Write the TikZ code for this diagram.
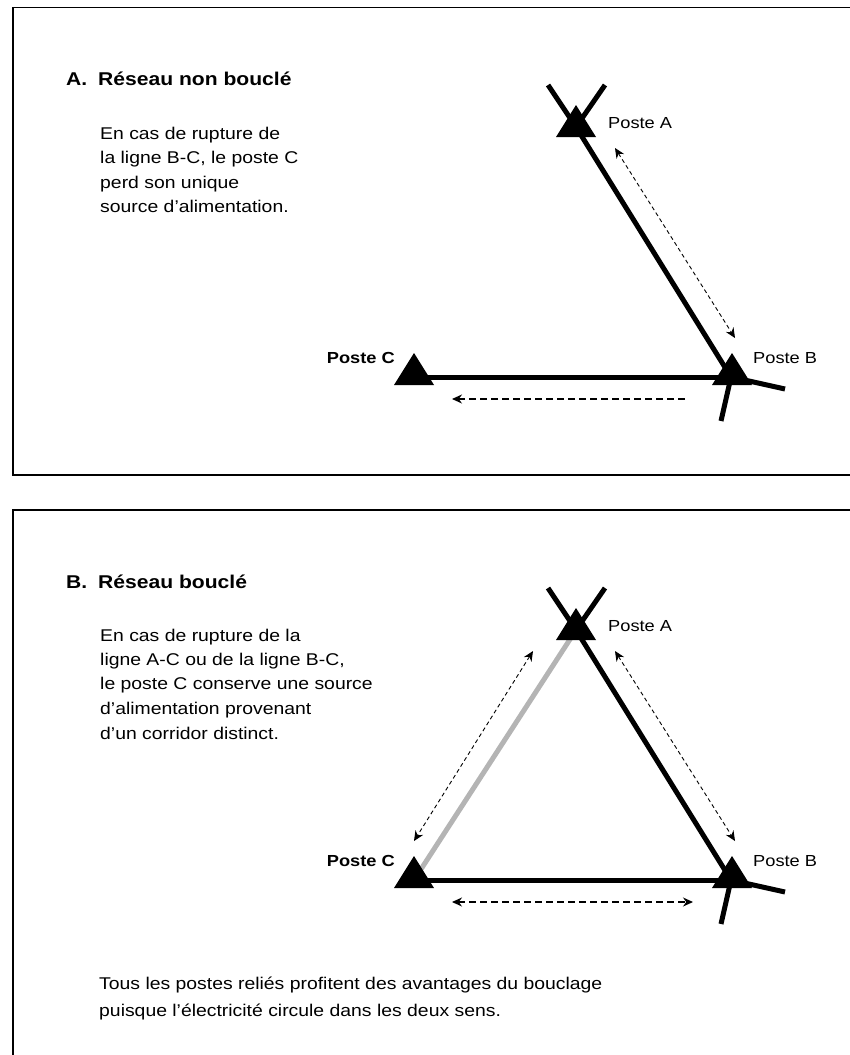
\documentclass[tikz,border=0pt]{standalone}
\usepackage{fontspec}
\setmainfont{Liberation Sans}[FakeStretch=1.14]
\usetikzlibrary{arrows.meta}
\definecolor{loopgray}{HTML}{B4B4B4}
\begin{document}
\begin{tikzpicture}[x=1pt,y=-1pt,
  >={Stealth[length=10pt,width=9pt]},
  frame/.style={line width=1.8pt},
  feeder/.style={line width=5pt},
  flowdiag/.style={line width=0.9pt, dash pattern=on 4pt off 3pt},
  flowflat/.style={line width=1.2pt, dash pattern=on 7pt off 4pt},
  body/.style={anchor=base west, inner sep=0pt, font=\fontsize{17}{24}\selectfont},
  heading/.style={anchor=base west, inner sep=0pt, font=\fontsize{18.5}{24}\selectfont\bfseries},
  postlabel/.style={inner sep=0pt, font=\fontsize{16}{20}\selectfont},
  postbold/.style={postlabel, font=\fontsize{16}{20}\selectfont\bfseries},
  station/.pic={\fill (-20,0) -- (20,0) -- (0,-32) -- cycle;}
]
\useasboundingbox (0,0) rectangle (850,1055);

% ---------- panel frames ----------
\draw[frame] (850,7.5) -- (13,7.5) -- (13,475) -- (850,475);
\draw[frame] (850,510) -- (13,510) -- (13,1055);

% ---------- panel A: radial network ----------
\node[heading] (titleA) at (66,85) {A.};
\node[heading] (titleAtext) at (98,85) {Réseau non bouclé};
\node[body] (tA1) at (100,139) {En cas de rupture de};
\node[body] (tA2) at (100,163) {la ligne B-C, le poste C};
\node[body] (tA3) at (100,188) {perd son unique};
\node[body] (tA4) at (100,212) {source d’alimentation.};

\coordinate (A1) at (576,127);
\coordinate (B1) at (731,377);
\coordinate (C1) at (414,377);
\coordinate (A1nw) at (548,85);
\coordinate (A1ne) at (605,85);
\coordinate (B1e) at (785,389);
\coordinate (B1s) at (721,421);

\draw[feeder] (A1nw) -- (A1);
\draw[feeder] (A1ne) -- (A1);
\draw[feeder] (A1) -- (B1);
\draw[feeder] (C1) -- (B1);
\draw[feeder] (B1) -- (B1e);
\draw[feeder] (B1) -- (B1s);

\pic at (576,137) {station};
\pic at (732,385) {station};
\pic at (414,385) {station};

\node[postlabel, anchor=west] (pA1) at (608,123) {Poste A};
\node[postlabel, anchor=west] (pB1) at (753,358) {Poste B};
\node[postbold, anchor=east] (pC1) at (395,358) {Poste C};

\coordinate (fAB1a) at (615,148);
\coordinate (fAB1b) at (735,338);
\coordinate (fBC1a) at (685,399);
\coordinate (fBC1b) at (452,399);
\draw[flowdiag, <->] (fAB1a) -- (fAB1b);
\draw[flowflat, ->] (fBC1a) -- (fBC1b);

% ---------- panel B: looped network ----------
\node[heading] (titleB) at (66,588) {B.};
\node[heading] (titleBtext) at (98,588) {Réseau bouclé};
\node[body] (tB1) at (100,641) {En cas de rupture de la};
\node[body] (tB2) at (100,665) {ligne A-C ou de la ligne B-C,};
\node[body] (tB3) at (100,689) {le poste C conserve une source};
\node[body] (tB4) at (100,714) {d’alimentation provenant};
\node[body] (tB5) at (100,739) {d’un corridor distinct.};

\coordinate (A2) at (576,630);
\coordinate (B2) at (731,880);
\coordinate (C2) at (414,880);
\coordinate (A2nw) at (548,588);
\coordinate (A2ne) at (605,588);
\coordinate (B2e) at (785,892);
\coordinate (B2s) at (721,924);

\draw[feeder, loopgray] (C2) -- (A2);
\draw[feeder] (A2nw) -- (A2);
\draw[feeder] (A2ne) -- (A2);
\draw[feeder] (A2) -- (B2);
\draw[feeder] (C2) -- (B2);
\draw[feeder] (B2) -- (B2e);
\draw[feeder] (B2) -- (B2s);

\pic at (576,640) {station};
\pic at (732,888) {station};
\pic at (414,888) {station};

\node[postlabel, anchor=west] (pA2) at (608,626) {Poste A};
\node[postlabel, anchor=west] (pB2) at (753,861) {Poste B};
\node[postbold, anchor=east] (pC2) at (395,861) {Poste C};

\coordinate (fAB2a) at (615,651);
\coordinate (fAB2b) at (735,841);
\coordinate (fAC2a) at (533,651);
\coordinate (fAC2b) at (414,841);
\coordinate (fBC2a) at (452,902);
\coordinate (fBC2b) at (693,902);
\draw[flowdiag, <->] (fAB2a) -- (fAB2b);
\draw[flowdiag, <->] (fAC2a) -- (fAC2b);
\draw[flowflat, <->] (fBC2a) -- (fBC2b);

\node[body] (note1) at (99,989) {Tous les postes reliés profitent des avantages du bouclage};
\node[body] (note2) at (99,1016) {puisque l’électricité circule dans les deux sens.};
\end{tikzpicture}
\end{document}
